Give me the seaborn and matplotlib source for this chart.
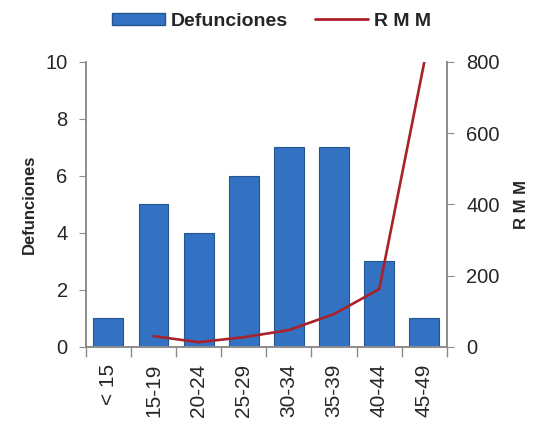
import numpy as np
import matplotlib
matplotlib.use("Agg")
import matplotlib.pyplot as plt
import seaborn as sns
import pandas as pd
from matplotlib.patches import Patch
from matplotlib.lines import Line2D

# data
grupos = ["< 15", "15-19", "20-24", "25-29", "30-34", "35-39", "40-44", "45-49"]
defunciones = [1, 5, 4, 6, 7, 7, 3, 1]
rmm = [np.nan, 30, 13, 27, 47, 92, 162, 800]

sns.set_style("white")
plt.rcParams['font.family'] = ['Liberation Sans', 'DejaVu Sans']

bar_color = "#3371c2"
bar_edge = "#24558f"
line_color = "#aa2229"
spine_color = "#8c8c8c"

df = pd.DataFrame({"grupo": grupos, "defunciones": defunciones, "rmm": rmm})
df["pos"] = np.arange(len(grupos))

fig = plt.figure(figsize=(5.43, 4.24), dpi=100)
ax = fig.add_axes([0.158, 0.182, 0.665, 0.672])

sns.barplot(data=df, x="grupo", y="defunciones", order=grupos, color=bar_color,
            edgecolor=bar_edge, linewidth=0.8, width=0.66, saturation=1, ax=ax)
ax.set_xlim(-0.5, len(grupos) - 0.5)
ax.set_ylim(0, 10)
ax.set_yticks([0, 2, 4, 6, 8, 10])
ax.set_xlabel("")
ax.set_ylabel("Defunciones", fontsize=12, fontweight="bold", labelpad=6)

ax2 = ax.twinx()
sns.lineplot(data=df.dropna(), x="pos", y="rmm", color=line_color, linewidth=1.9, ax=ax2)
ax2.set_ylim(0, 800)
ax2.set_yticks([0, 200, 400, 600, 800])
ax2.set_xlim(-0.5, len(grupos) - 0.5)
ax2.set_ylabel("R M M", fontsize=12, fontweight="bold", labelpad=10)
ax2.set_xlabel("")

for a in (ax, ax2):
    a.spines["top"].set_visible(False)
    for s in ("left", "right", "bottom"):
        a.spines[s].set_color(spine_color)
        a.spines[s].set_linewidth(1.2)

ax.tick_params(axis="y", which="both", left=True, length=5, color=spine_color,
               labelsize=14.5, pad=8)
ax2.tick_params(axis="y", right=True, length=5, color=spine_color, labelsize=14.5, pad=9)

# x ticks: labels centred on categories, tick marks at boundaries
ax.set_xticks(np.arange(len(grupos)))
ax.set_xticklabels(grupos, rotation=90, fontsize=15)
ax.set_xticks(np.arange(len(grupos) + 1) - 0.5, minor=True)
ax.tick_params(axis="x", which="major", length=0, pad=12)
ax.tick_params(axis="x", which="minor", bottom=True, length=7, color=spine_color, width=1)

handles = [Patch(facecolor=bar_color, edgecolor=bar_edge),
           Line2D([0], [0], color=line_color, lw=2)]
fig.legend(handles, ["Defunciones", "R M M"], loc="center",
           bbox_to_anchor=(0.5, 0.95), ncol=2, frameon=False,
           prop={"weight": "bold", "size": 14}, handlelength=2.7, handleheight=0.6,
           handletextpad=0.3, columnspacing=1.4)

fig.savefig("out.png", dpi=100)
